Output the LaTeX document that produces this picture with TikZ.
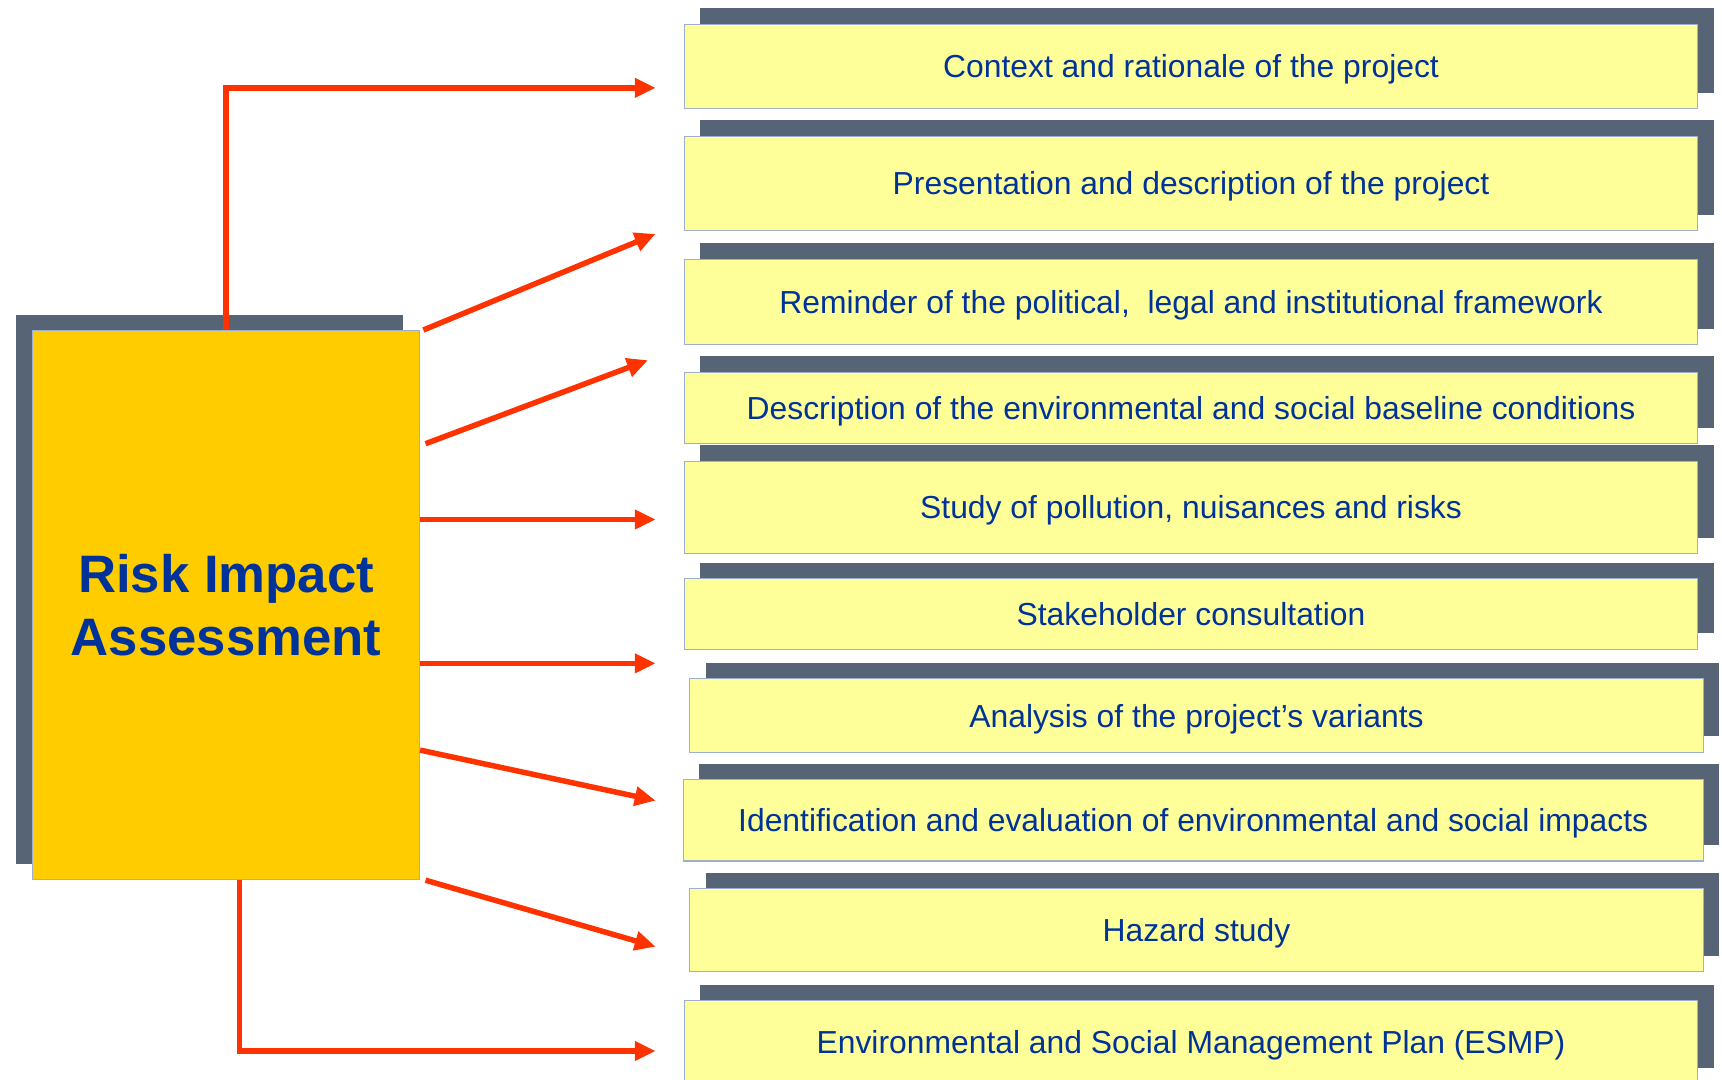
\documentclass[tikz,border=0pt]{standalone}
\usepackage{fontspec}
\setmainfont{Liberation Sans}
\usetikzlibrary{arrows.meta,shadows}
\definecolor{slate}{HTML}{566475}
\definecolor{paleyellow}{HTML}{FFFF99}
\definecolor{gold}{HTML}{FFCC00}
\definecolor{navy}{HTML}{003399}
\definecolor{edge}{HTML}{9DB0CF}
\definecolor{arrowred}{HTML}{FF3300}

\begin{document}
\begin{tikzpicture}[x=1pt, y=-1pt,
  stage/.style = {shape=rectangle, draw=edge, line width=1pt,
    fill=paleyellow, text=navy, inner sep=0pt,
    text height=21pt, text depth=0pt,
    font=\fontsize{29}{34}\selectfont, minimum width=923pt,
    drop shadow={shadow xshift=14.5pt, shadow yshift=14.5pt,
      fill=slate, opacity=1}},
  main/.style = {shape=rectangle, draw=edge, line width=1pt,
    fill=gold, text=navy, align=center,
    font=\fontsize{48}{57}\selectfont\bfseries,
    minimum width=352pt, minimum height=500pt,
    drop shadow={shadow xshift=-15pt, shadow yshift=14pt,
      fill=slate, opacity=1}},
  link/.style = {draw=arrowred, line width=5pt,
    -{Triangle[length=19pt,width=17pt]}}]
  \useasboundingbox (0,0) rectangle (1568,983);

  \node[main] (risk) at (206,551) {Risk Impact\\Assessment};

  \node[stage, minimum height=77pt] (context) at (1084.5,60.5)
    {Context and rationale of the project};
  \node[stage, minimum height=86pt] (present) at (1084.5,167)
    {Presentation and description of the project};
  \node[stage, minimum height=78pt] (framework) at (1084.5,275)
    {Reminder of the political,\ \ legal and institutional framework};
  \node[stage, minimum height=65pt] (baseline) at (1084.5,371.5)
    {Description of the environmental and social baseline conditions};
  \node[stage, minimum height=84pt] (pollution) at (1084.5,462)
    {Study of pollution, nuisances and risks};
  \node[stage, minimum height=64pt] (consult) at (1084.5,559)
    {Stakeholder consultation};
  \node[stage, minimum height=67pt] (variants) at (1089.5,651.5)
    {Analysis of the project’s variants};
  \node[stage, minimum height=74pt, minimum width=929pt] (impacts) at (1086.5,747)
    {Identification and evaluation of environmental and social impacts};
  \node[stage, minimum height=76pt] (hazard) at (1089.5,847)
    {Hazard study};
  \node[stage, minimum height=76pt] (esmp) at (1084.5,949)
    {Environmental and Social Management Plan (ESMP)};

  % arrow tips
  \coordinate (t1) at (597,80);
  \coordinate (t2) at (597,213);
  \coordinate (t3) at (590,328);
  \coordinate (t4) at (597,473);
  \coordinate (t5) at (597,604);
  \coordinate (t6) at (597,729);
  \coordinate (t7) at (597,862);
  \coordinate (t8) at (597,957);

  \draw[link] (risk.north) |- (t1);
  \draw[link] ([xshift=3pt]risk.north east) -- (t2);
  \draw[link] ([xshift=5pt,yshift=147pt]risk.east) -- (t3);
  \draw[link] (risk.east |- t4) -- (t4);
  \draw[link] (risk.east |- t5) -- (t5);
  \draw[link] ([yshift=-132pt]risk.east) -- (t6);
  \draw[link] ([xshift=5pt]risk.south east) -- (t7);
  \draw[link] ([xshift=12pt]risk.south) |- (t8);
\end{tikzpicture}
\end{document}
